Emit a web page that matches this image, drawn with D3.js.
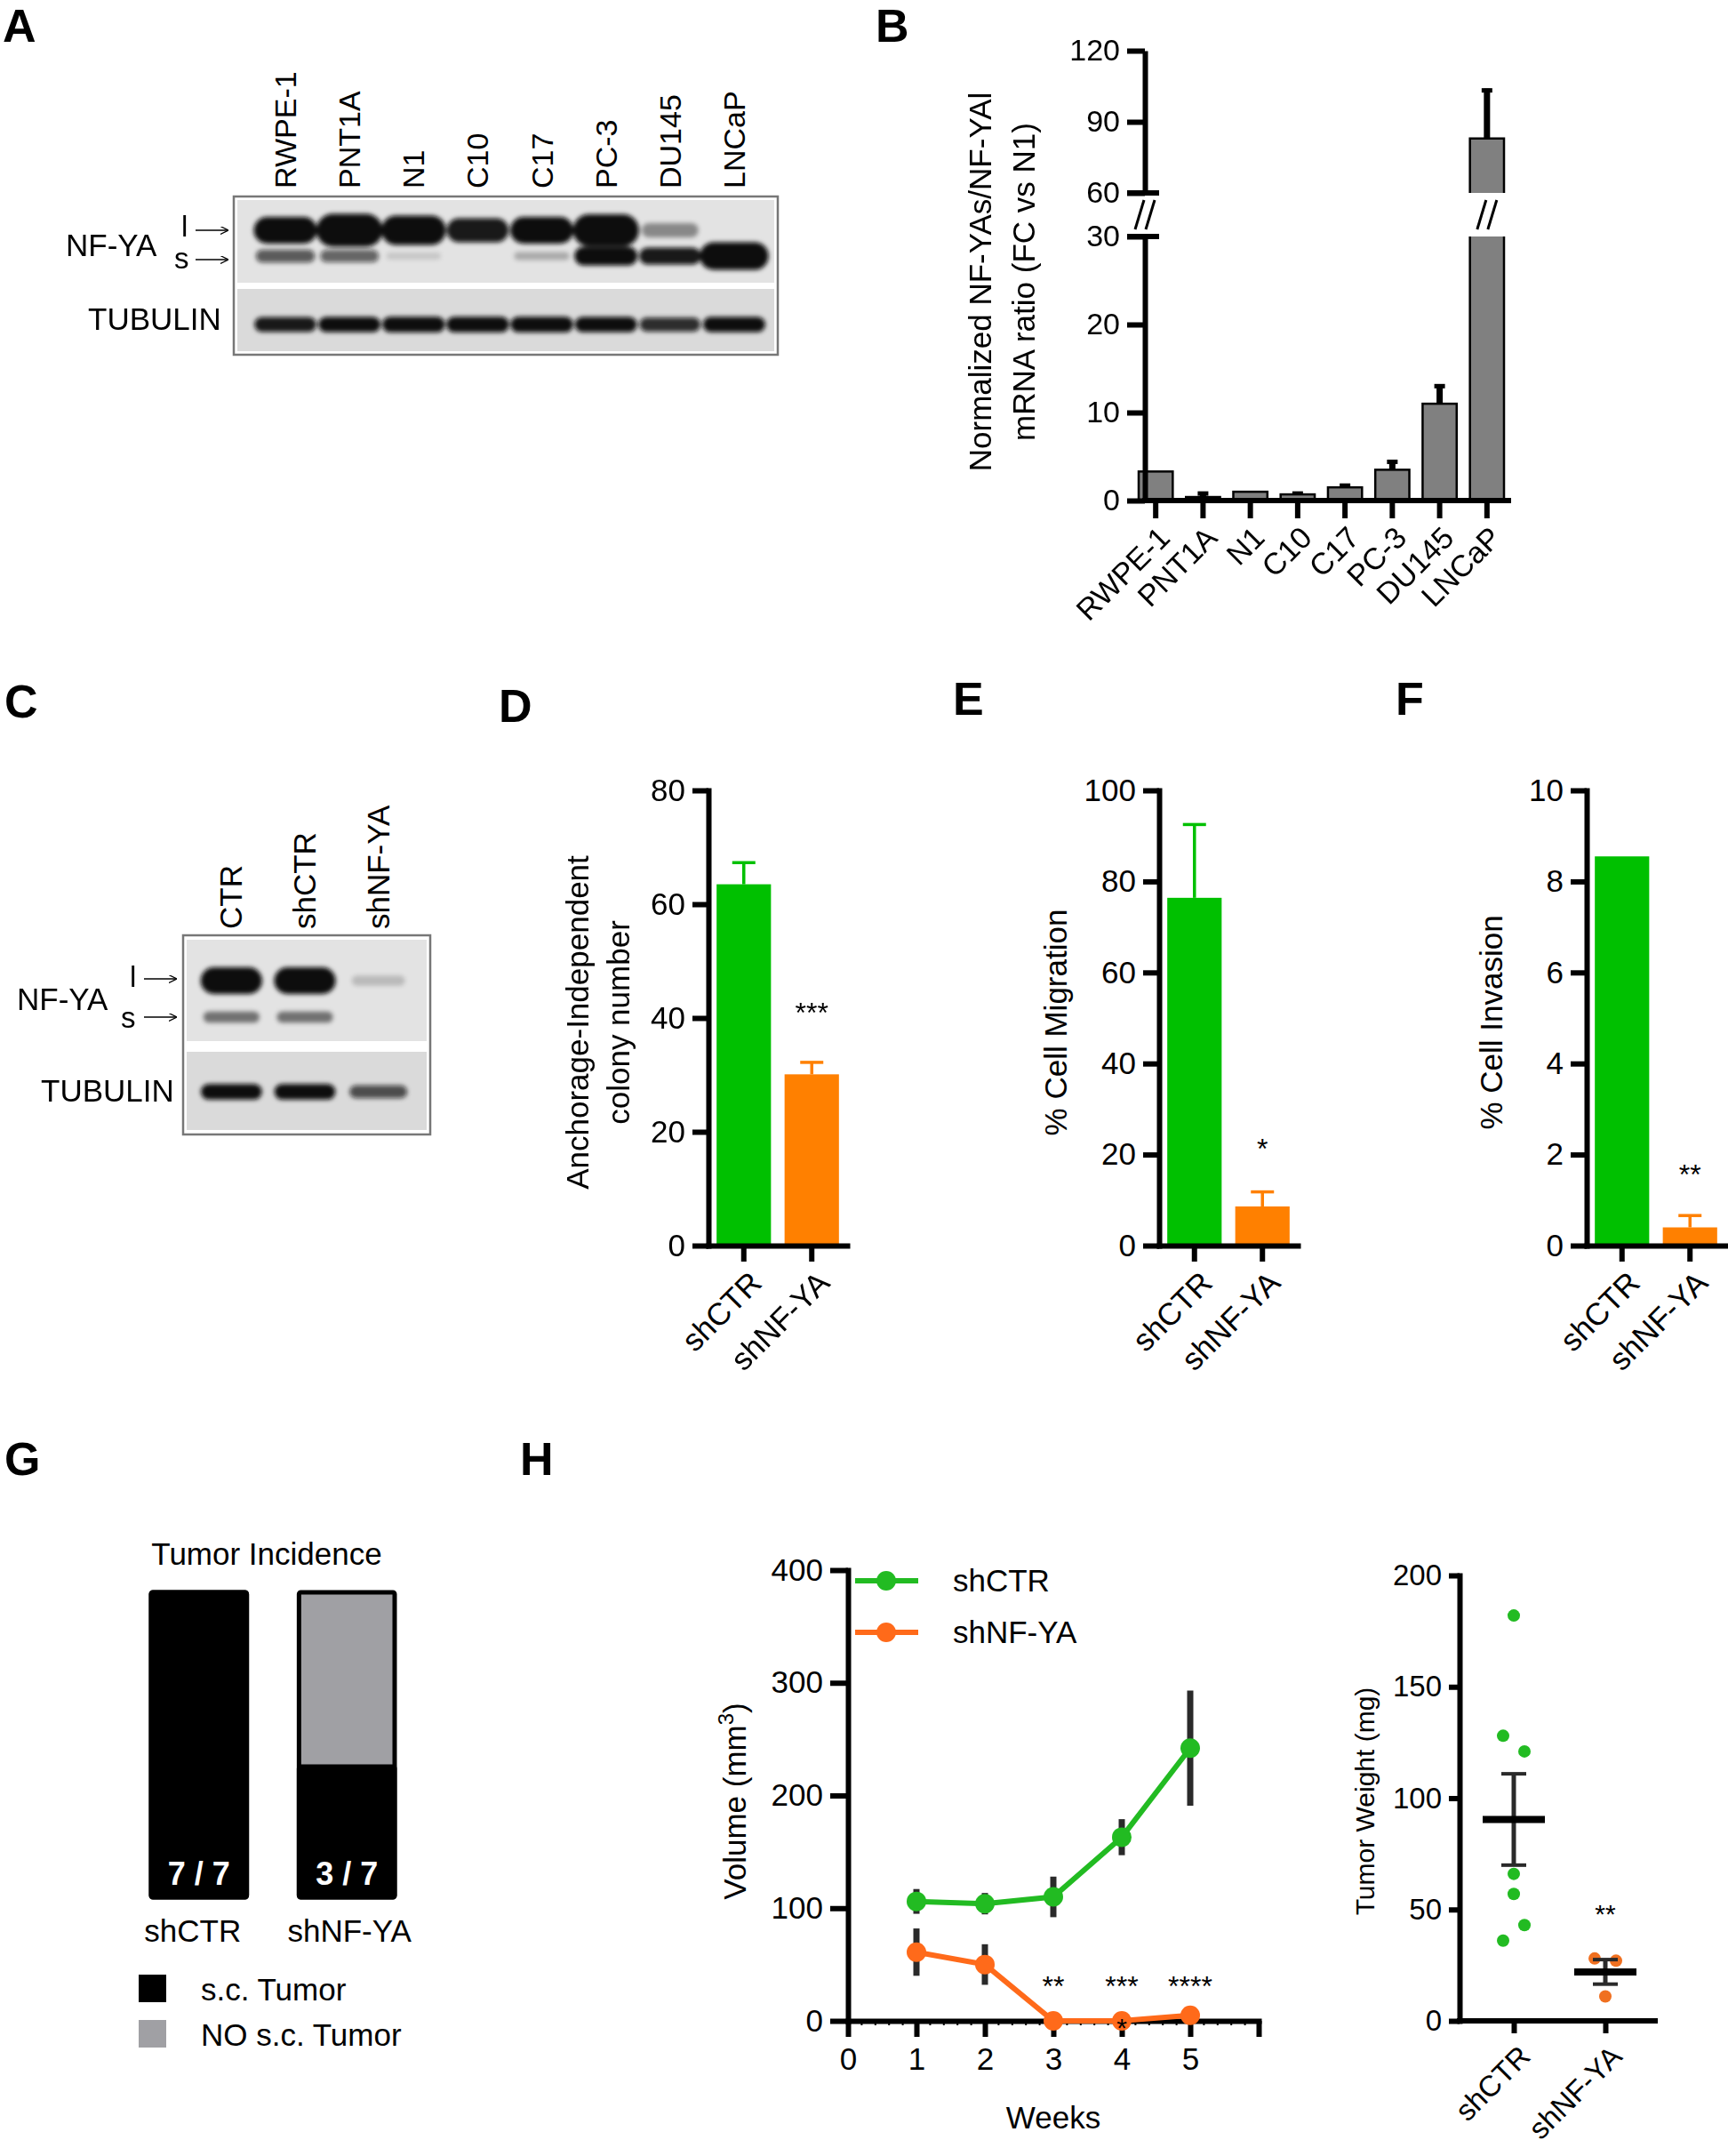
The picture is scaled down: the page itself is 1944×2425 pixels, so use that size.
<!DOCTYPE html>
<html><head><meta charset="utf-8">
<script src="https://cdn.jsdelivr.net/npm/d3@7"></script>
<style>body{margin:0;background:#fff}</style>
</head><body><svg id="fig" width="1944" height="2425"></svg>
<script>
// ---------------- DATA ----------------
const panelLetters = ["A","B","C","D","E","F","G","H"];

// Panel A western blot (relative band intensities)
const blotALanes = ["RWPE-1","PNT1A","N1","C10","C17","PC-3","DU145","LNCaP"];
const blotABandL = [1.0,1.35,1.15,0.85,1.0,1.3,0.3,0.0];
const blotABandS = [0.55,0.5,0.03,0.0,0.15,1.0,0.85,1.7];
const blotATub   = [0.85,0.9,0.95,0.95,0.95,0.9,0.75,0.9];

// Panel B mRNA ratio
const ratioCats = ["RWPE-1","PNT1A","N1","C10","C17","PC-3","DU145","LNCaP"];
const ratioVals = [3.3,0.4,1.0,0.7,1.5,3.5,11.0,83];
const ratioErr  = [0,0.6,0,0.3,0.4,1.1,2.2,21];
const ratioLowTicks  = [0,10,20,30];
const ratioHighTicks = [60,90,120];

// Panel C western blot
const blotCLanes = ["CTR","shCTR","shNF-YA"];
const blotCBandL = [1.0,1.0,0.08];
const blotCBandS = [0.4,0.4,0.0];
const blotCTub   = [0.95,0.95,0.6];

// Panels D-F
const groups = ["shCTR","shNF-YA"];
const colonyVals = [63.5,30.1], colonyErr = [3.8,2.1];
const migrationVals = [76.4,8.6], migrationErr = [16.1,3.2];
const invasionVals = [8.55,0.4], invasionErr = [0,0.26];
const colonyTicks = [0,20,40,60,80];
const migrationTicks = [0,20,40,60,80,100];
const invasionTicks = [0,2,4,6,8,10];
const sigDEF = ["***","*","**"];
const sigLevel = [42,22.7,1.7];

// Panel G tumor incidence
const incidenceGroups = ["shCTR","shNF-YA"];
const incidenceYes = [7,3];
const incidenceTotal = [7,7];
const incidenceLegend = ["s.c. Tumor","NO s.c. Tumor"];

// Panel H tumor volume
const weeks = [1,2,3,4,5];
const volCTR = [106,104,110,163,242];
const volCTRErr = [11,9.5,18,16,51];
const volNFYA = [61,50,0,0,5];
const volNFYAErr = [21,18,0,0,0];
const volSig = ["","","**","***","****"];
const volYTicks = [0,100,200,300,400];
const volXTicks = [0,1,2,3,4,5];

// Panel H tumor weight
const weightCTR = [182,128,121,66,57,43,36];
const weightCTRSlot = [0,-1,1,0,0,1,-1];
const weightNFYA = [28,27,11];
const weightNFYASlot = [-1,1,0];
const weightTicks = [0,50,100,150,200];

// ---------------- DRAWING ----------------
const FF = '"Liberation Sans", Arial, Helvetica, sans-serif';
const svg = d3.select("#fig");
svg.append("rect").attr("width",1944).attr("height",2425).attr("fill","#fff");
const defs = svg.append("defs");
const f = defs.append("filter").attr("id","blur").attr("x","-30%").attr("y","-100%").attr("width","160%").attr("height","300%");
f.append("feGaussianBlur").attr("stdDeviation",2.4);
defs.append("marker").attr("id","arr").attr("viewBox","0 0 10 10").attr("refX",9).attr("refY",5)
  .attr("markerWidth",9).attr("markerHeight",9).attr("markerUnits","userSpaceOnUse").attr("orient","auto")
  .append("path").attr("d","M0,0 L10,5 L0,10").attr("fill","none").attr("stroke","#000").attr("stroke-width",1.4);

const GREEN = "#00C000", ORANGE = "#FF8000";
const GREEN2 = "#22BB22", ORANGE2 = "#FF6A1A";

function text(g, x, y, s, o = {}) {
  const t = g.append("text").attr("x",x).attr("y",y).text(s)
    .attr("font-family",FF).attr("font-size",o.fs || 35).attr("fill",o.fill || "#000")
    .attr("text-anchor",o.anchor || "start");
  if (o.bold) t.attr("font-weight","bold");
  if (o.transform) t.attr("transform",o.transform);
  return t;
}
function styleAxis(a, fs = 35) {
  a.attr("font-family",null).attr("font-size",null);
  a.selectAll(".domain").attr("stroke","#000").attr("stroke-width",6).attr("stroke-linecap","square");
  a.selectAll(".tick line").attr("stroke","#000").attr("stroke-width",6);
  a.selectAll(".tick text").attr("font-family",FF).attr("font-size",fs).attr("fill","#000");
}
function rotLabels(a, tick, dx = 20, dy = 30) {
  a.selectAll(".tick text").attr("text-anchor","end").attr("dy",null).attr("x",0).attr("y",0)
    .attr("transform",`translate(${dx},${tick + dy}) rotate(-45)`);
}

// panel letters
const letterPos = [[3,47],[985,47],[5,807],[561,812],[1072,804],[1570,804],[5,1659],[585,1659]];
panelLetters.forEach((L,i)=> text(svg, letterPos[i][0], letterPos[i][1], L, {fs:52, bold:true}));

// ---------- Blot helper ----------
function drawBlot(g, cfg) {
  const {box, topP, botP, lanes, bandL, bandS, tub, xr, yL, yS, yT, bw} = cfg;
  g.append("rect").attr("x",box[0]).attr("y",box[1]).attr("width",box[2]-box[0]).attr("height",box[3]-box[1])
    .attr("fill","#fff").attr("stroke","#777").attr("stroke-width",2.5);
  g.append("rect").attr("x",box[0]+4).attr("y",topP[0]).attr("width",box[2]-box[0]-8).attr("height",topP[1]-topP[0]).attr("fill","#e3e3e3");
  g.append("rect").attr("x",box[0]+4).attr("y",botP[0]).attr("width",box[2]-box[0]-8).attr("height",botP[1]-botP[0]).attr("fill","#dadada");
  const x = d3.scaleBand().domain(lanes).range(xr);
  const bands = g.append("g").attr("filter","url(#blur)");
  function band(vals, cy, base, k) {
    vals.forEach((v,i)=>{
      if (v <= 0.01) return;
      const cx = x(lanes[i]) + x.bandwidth()/2;
      const w = bw*(0.82+0.14*Math.min(v,1.6));
      const h = base + k*v;
      bands.append("rect").attr("x",cx-w/2).attr("y",cy-h/2).attr("width",w).attr("height",h)
        .attr("rx",Math.min(w/2,h/2)).attr("ry",h/2)
        .attr("fill","#0b0b0b").attr("opacity",Math.min(1,0.1+v));
    });
  }
  band(bandL, yL, 10, 20); band(bandS, yS, 7, 14); band(tub, yT, 9, 9);
  return x;
}

// ---------- Panel A ----------
{
  const g = svg.append("g");
  const x = drawBlot(g, {box:[263,221,875,399], topP:[225,318], botP:[325,395], lanes:blotALanes,
    bandL:blotABandL, bandS:blotABandS, tub:blotATub, xr:[285,862], yL:259, yS:288, yT:365, bw:74});
  blotALanes.forEach(l=>{
    const cx = x(l)+x.bandwidth()/2;
    text(g, 0, 0, l, {fs:34, transform:`translate(${cx+12},212) rotate(-90)`});
  });
  text(g, 74, 288, "NF-YA", {fs:35});
  text(g, 204, 266, "l", {fs:33});
  text(g, 196, 302, "s", {fs:33});
  g.append("line").attr("x1",220).attr("x2",256).attr("y1",259).attr("y2",259).attr("stroke","#000").attr("stroke-width",1.6).attr("marker-end","url(#arr)");
  g.append("line").attr("x1",220).attr("x2",256).attr("y1",292).attr("y2",292).attr("stroke","#000").attr("stroke-width",1.6).attr("marker-end","url(#arr)");
  text(g, 99, 371, "TUBULIN", {fs:35});
}

// ---------- Panel B ----------
{
  const g = svg.append("g");
  const axX = 1288;
  const yLo = d3.scaleLinear().domain([0,30]).range([563,266]);
  const yHi = d3.scaleLinear().domain([60,120]).range([217,57]);
  const x = d3.scaleBand().domain(ratioCats).range([1281,1692]).paddingInner(0.28).paddingOuter(0.0);
  ratioCats.forEach((c,i)=>{
    const v = ratioVals[i], e = ratioErr[i];
    const bx = x(c), bw = x.bandwidth(), cx = bx + bw/2;
    if (v <= 30) {
      if (e > 0) {
        g.append("line").attr("x1",cx).attr("x2",cx).attr("y1",yLo(v)).attr("y2",yLo(v+e)).attr("stroke","#000").attr("stroke-width",7);
        g.append("line").attr("x1",cx-6).attr("x2",cx+6).attr("y1",yLo(v+e)+2).attr("y2",yLo(v+e)+2).attr("stroke","#000").attr("stroke-width",5);
      }
      g.append("rect").attr("x",bx).attr("y",yLo(v)).attr("width",bw).attr("height",yLo(0)-yLo(v))
        .attr("fill","#808080").attr("stroke","#000").attr("stroke-width",2.5);
    } else {
      g.append("line").attr("x1",cx).attr("x2",cx).attr("y1",yHi(v)).attr("y2",yHi(v+e)).attr("stroke","#000").attr("stroke-width",7);
      g.append("line").attr("x1",cx-6).attr("x2",cx+6).attr("y1",yHi(v+e)+2).attr("y2",yHi(v+e)+2).attr("stroke","#000").attr("stroke-width",5);
      g.append("path").attr("d",`M${bx},${yLo(30)}V${yLo(0)}H${bx+bw}V${yLo(30)}`)
        .attr("fill","#808080").attr("stroke","#000").attr("stroke-width",2.5);
      g.append("path").attr("d",`M${bx},${yHi(60)}V${yHi(v)}H${bx+bw}V${yHi(60)}`)
        .attr("fill","#808080").attr("stroke","#000").attr("stroke-width",2.5);
      [-6,6].forEach(o=>g.append("line").attr("x1",cx+o-5).attr("x2",cx+o+5).attr("y1",yLo(30)-8).attr("y2",yHi(60)+8).attr("stroke","#000").attr("stroke-width",3));
    }
  });
  const aLo = g.append("g").attr("transform",`translate(${axX},0)`).call(d3.axisLeft(yLo).tickValues(ratioLowTicks).tickSize(20).tickSizeOuter(0).tickPadding(8));
  const aHi = g.append("g").attr("transform",`translate(${axX},0)`).call(d3.axisLeft(yHi).tickValues(ratioHighTicks).tickSize(20).tickSizeOuter(0).tickPadding(8));
  styleAxis(aLo,34); styleAxis(aHi,34);
  aLo.selectAll(".domain").attr("stroke-linecap","butt");
  aHi.selectAll(".domain").attr("stroke-linecap","butt");
  [yLo(30), yHi(60)].forEach(yy=>g.append("line").attr("x1",axX-20).attr("x2",axX+16).attr("y1",yy).attr("y2",yy).attr("stroke","#000").attr("stroke-width",6));
  [-6,6].forEach(o=>g.append("line").attr("x1",axX+o-5).attr("x2",axX+o+5).attr("y1",yLo(30)-8).attr("y2",yHi(60)+8).attr("stroke","#000").attr("stroke-width",3));
  const ax = g.append("g").attr("transform",`translate(0,${yLo(0)})`).call(d3.axisBottom(x).tickSize(20).tickSizeOuter(0));
  styleAxis(ax,34);
  ax.select(".domain").attr("d",`M${axX},0H1697`);
  rotLabels(ax, 20, 18, 24);
  text(g, 0, 0, "Normalized NF-YAs/NF-YAl", {fs:35, anchor:"middle", transform:"translate(1115,317) rotate(-90)"});
  text(g, 0, 0, "mRNA ratio (FC vs N1)", {fs:35, anchor:"middle", transform:"translate(1164,317) rotate(-90)"});
}

// ---------- Panel C ----------
{
  const g = svg.append("g");
  const x = drawBlot(g, {box:[206,1052,484,1276], topP:[1057,1171], botP:[1183,1271], lanes:blotCLanes,
    bandL:blotCBandL, bandS:blotCBandS, tub:blotCTub, xr:[219,467], yL:1103, yS:1144, yT:1228, bw:72});
  blotCLanes.forEach(l=>{
    const cx = x(l)+x.bandwidth()/2;
    text(g, 0, 0, l, {fs:35, transform:`translate(${cx+12},1045) rotate(-90)`});
  });
  text(g, 19, 1136, "NF-YA", {fs:35});
  text(g, 146, 1110, "l", {fs:33});
  text(g, 136, 1156, "s", {fs:33});
  g.append("line").attr("x1",162).attr("x2",198).attr("y1",1101).attr("y2",1101).attr("stroke","#000").attr("stroke-width",1.6).attr("marker-end","url(#arr)");
  g.append("line").attr("x1",162).attr("x2",198).attr("y1",1144).attr("y2",1144).attr("stroke","#000").attr("stroke-width",1.6).attr("marker-end","url(#arr)");
  text(g, 46, 1239, "TUBULIN", {fs:35});
}

// ---------- Panels D, E, F ----------
function barPanel(x0, vals, errs, ticks, sig, sigV, titles, titleX) {
  const g = svg.append("g");
  const y = d3.scaleLinear().domain([0, ticks[ticks.length-1]]).range([1401, 889]);
  const x = d3.scaleBand().domain(groups).range([x0, x0+156]).paddingInner(0.2).paddingOuter(0.12);
  const cols = [GREEN, ORANGE];
  groups.forEach((gname,i)=>{
    const cx = x(gname)+x.bandwidth()/2;
    if (errs[i] > 0) {
      g.append("line").attr("x1",cx).attr("x2",cx).attr("y1",y(vals[i])).attr("y2",y(vals[i]+errs[i])).attr("stroke",cols[i]).attr("stroke-width",3.5);
      g.append("line").attr("x1",cx-13).attr("x2",cx+13).attr("y1",y(vals[i]+errs[i])).attr("y2",y(vals[i]+errs[i])).attr("stroke",cols[i]).attr("stroke-width",3.5);
    }
    g.append("rect").attr("x",x(gname)).attr("y",y(vals[i])).attr("width",x.bandwidth()).attr("height",y(0)-y(vals[i])).attr("fill",cols[i]);
  });
  const ay = g.append("g").attr("transform",`translate(${x0},0)`).call(d3.axisLeft(y).tickValues(ticks).tickSize(18).tickSizeOuter(0).tickPadding(8));
  styleAxis(ay,35);
  const ax = g.append("g").attr("transform",`translate(0,${y(0)})`).call(d3.axisBottom(x).tickSize(18).tickSizeOuter(0));
  styleAxis(ax,35);
  rotLabels(ax, 18, 22, 26);
  const cx2 = x(groups[1])+x.bandwidth()/2;
  text(g, cx2, y(sigV)+18, sig, {fs:32, anchor:"middle"});
  titles.forEach((t,k)=> text(g, 0, 0, t, {fs:35, anchor:"middle", transform:`translate(${titleX[k]},1150) rotate(-90)`}));
}
barPanel(797, colonyVals, colonyErr, colonyTicks, sigDEF[0], sigLevel[0], ["Anchorage-Independent","colony number"], [662,708]);
barPanel(1304, migrationVals, migrationErr, migrationTicks, sigDEF[1], sigLevel[1], ["% Cell Migration"], [1200]);
barPanel(1785, invasionVals, invasionErr, invasionTicks, sigDEF[2], sigLevel[2], ["% Cell Invasion"], [1690]);

// ---------- Panel G ----------
{
  const g = svg.append("g");
  const x = d3.scaleBand().domain(incidenceGroups).range([170,444]).paddingInner(0.353).paddingOuter(0);
  const y = d3.scaleLinear().domain([0,7]).range([2134,1791]);
  text(g, 300, 1760, "Tumor Incidence", {fs:35, anchor:"middle"});
  incidenceGroups.forEach((gn,i)=>{
    const bx = x(gn), bw = x.bandwidth();
    g.append("rect").attr("x",bx).attr("y",y(incidenceTotal[i])).attr("width",bw).attr("height",y(0)-y(incidenceTotal[i]))
      .attr("fill","#a0a0a4").attr("stroke","#000").attr("stroke-width",5).attr("rx",2);
    g.append("rect").attr("x",bx).attr("y",y(incidenceYes[i])).attr("width",bw).attr("height",y(0)-y(incidenceYes[i]))
      .attr("fill","#000").attr("stroke","#000").attr("stroke-width",5).attr("rx",2);
    text(g, bx+bw/2, 2120, `${incidenceYes[i]} / ${incidenceTotal[i]}`, {fs:36, bold:true, fill:"#fff", anchor:"middle"});
    text(g, bx+bw/2+(i===0?-7:3), 2184, gn, {fs:35, anchor:"middle"});
  });
  const lc = ["#000","#a0a0a4"];
  incidenceLegend.forEach((l,i)=>{
    g.append("rect").attr("x",156).attr("y",2221+i*51).attr("width",31).attr("height",31).attr("fill",lc[i]);
    text(g, 226, 2250+i*51, l, {fs:35});
  });
}

// ---------- Panel H: volume ----------
{
  const g = svg.append("g");
  const x = d3.scaleLinear().domain([0,6]).range([954,1416]);
  const y = d3.scaleLinear().domain([0,400]).range([2273,1766]);
  weeks.forEach((w,i)=>{
    [[volCTR,volCTRErr],[volNFYA,volNFYAErr]].forEach(([v,e])=>{
      if (e[i] > 0) g.append("line").attr("x1",x(w)).attr("x2",x(w)).attr("y1",y(v[i]-e[i])).attr("y2",y(v[i]+e[i])).attr("stroke","#2a2a2a").attr("stroke-width",7);
    });
  });
  const ay = g.append("g").attr("transform",`translate(${x(0)},0)`).call(d3.axisLeft(y).tickValues(volYTicks).tickSize(20).tickSizeOuter(0).tickPadding(8));
  styleAxis(ay,35);
  const ax = g.append("g").attr("transform",`translate(0,${y(0)})`).call(d3.axisBottom(x).tickValues(volXTicks.concat([6])).tickFormat(d3.format("d")).tickSize(18).tickSizeOuter(0).tickPadding(12));
  styleAxis(ax,35);
  ax.selectAll(".tick text").filter(d=>d===6).remove();
  const minor = d3.range(0,6.001,0.2).filter(v=>Math.abs(v-Math.round(v))>0.01);
  g.selectAll(".mt").data(minor).enter().append("line").attr("x1",d=>x(d)).attr("x2",d=>x(d)).attr("y1",y(0)+1).attr("y2",y(0)+5).attr("stroke","#000").attr("stroke-width",2);
  const line = d3.line().x((d,i)=>x(weeks[i])).y(d=>y(d));
  g.append("path").attr("d",line(volCTR)).attr("fill","none").attr("stroke",GREEN2).attr("stroke-width",6);
  g.append("path").attr("d",line(volNFYA)).attr("fill","none").attr("stroke",ORANGE2).attr("stroke-width",6);
  volCTR.forEach((v,i)=>g.append("circle").attr("cx",x(weeks[i])).attr("cy",y(v)).attr("r",11).attr("fill",GREEN2));
  volNFYA.forEach((v,i)=>g.append("circle").attr("cx",x(weeks[i])).attr("cy",y(v)).attr("r",11).attr("fill",ORANGE2));
  text(g, x(4), y(0)+18, "*", {fs:30, anchor:"middle"});
  volSig.forEach((s,i)=>{ if (s) text(g, x(weeks[i]), y(38)+20, s, {fs:32, anchor:"middle"}); });
  [[GREEN2,"shCTR",1778],[ORANGE2,"shNF-YA",1836]].forEach(([c,l,yy])=>{
    g.append("line").attr("x1",962).attr("x2",1033).attr("y1",yy).attr("y2",yy).attr("stroke",c).attr("stroke-width",6);
    g.append("circle").attr("cx",997).attr("cy",yy).attr("r",11).attr("fill",c);
    text(g, 1072, yy+12, l, {fs:35});
  });
  text(g, 1185, 2394, "Weeks", {fs:35, anchor:"middle"});
  const t = text(g, 0, 0, "Volume (mm", {fs:35, anchor:"middle", transform:"translate(839,2026) rotate(-90)"});
  t.append("tspan").attr("dy",-14).attr("font-size",24).text("3");
  t.append("tspan").attr("dy",14).text(")");
}

// ---------- Panel H: weight ----------
{
  const g = svg.append("g");
  const y = d3.scaleLinear().domain([0,200]).range([2273,1772]);
  const x = d3.scalePoint().domain(groups).range([1703,1806]);
  const ay = g.append("g").attr("transform","translate(1642,0)").call(d3.axisLeft(y).tickValues(weightTicks).tickSize(12).tickSizeOuter(0).tickPadding(8));
  styleAxis(ay,33);
  const ax = g.append("g").attr("transform",`translate(0,${y(0)})`).call(d3.axisBottom(x).tickSize(14).tickSizeOuter(0));
  styleAxis(ax,33);
  ax.select(".domain").attr("d","M1642,0H1862");
  rotLabels(ax, 14, 20, 28);
  const sets = [[weightCTR,weightCTRSlot,GREEN2],[weightNFYA,weightNFYASlot,"#F07020"]];
  sets.forEach(([vals,slots,c],i)=>{
    const cx = x(groups[i]);
    const mean = d3.mean(vals), sem = d3.deviation(vals)/Math.sqrt(vals.length);
    vals.forEach((v,k)=>g.append("circle").attr("cx",cx+slots[k]*12).attr("cy",y(v)).attr("r",7).attr("fill",c));
    g.append("line").attr("x1",cx).attr("x2",cx).attr("y1",y(mean-sem)).attr("y2",y(mean+sem)).attr("stroke","#2a2a2a").attr("stroke-width",5);
    [mean-sem,mean+sem].forEach(v=>g.append("line").attr("x1",cx-14).attr("x2",cx+14).attr("y1",y(v)).attr("y2",y(v)).attr("stroke","#2a2a2a").attr("stroke-width",4));
    g.append("line").attr("x1",cx-35).attr("x2",cx+35).attr("y1",y(mean)).attr("y2",y(mean)).attr("stroke","#000").attr("stroke-width",8);
  });
  text(g, x(groups[1]), y(51)+18, "**", {fs:30, anchor:"middle"});
  text(g, 0, 0, "Tumor Weight (mg)", {fs:30, anchor:"middle", transform:"translate(1546,2026) rotate(-90)"});
}
</script></body></html>
